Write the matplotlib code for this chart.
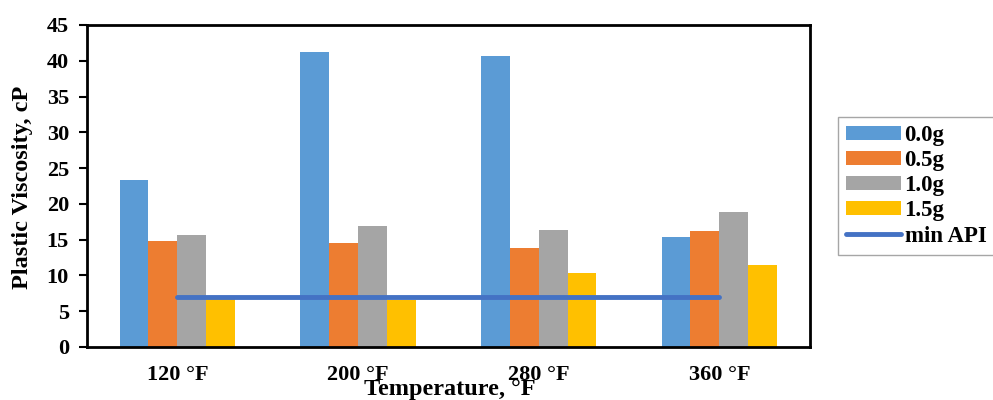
import matplotlib
matplotlib.use("Agg")
import matplotlib.pyplot as plt
import numpy as np
from matplotlib.patches import Patch
from matplotlib.lines import Line2D

categories = ["120 °F", "200 °F", "280 °F", "360 °F"]
series_names = ["0.0g", "0.5g", "1.0g", "1.5g"]
s00 = [23.4, 41.2, 40.7, 15.4]
s05 = [14.8, 14.6, 13.8, 16.2]
s10 = [15.6, 16.9, 16.4, 18.9]
s15 = [6.7, 6.6, 10.3, 11.4]
min_api = [7, 7, 7, 7]

colors = ["#5B9BD5", "#ED7D31", "#A5A5A5", "#FFC000"]
line_color = "#4472C4"

plt.rcParams['font.family'] = ['Liberation Serif', 'DejaVu Serif']
plt.rcParams['font.weight'] = 'bold'

fig = plt.figure(figsize=(9.93, 4.0), dpi=100)
ax = fig.add_axes([0.0876, 0.1325, 0.8154 - 0.0876, 0.9375 - 0.1325])

x = np.arange(len(categories))
w = 0.16
for i, (vals, c) in enumerate(zip([s00, s05, s10, s15], colors)):
    ax.bar(x + (i - 1.5) * w, vals, width=w, color=c, zorder=2)
ax.plot(x, min_api, color=line_color, lw=3.5, zorder=3, solid_capstyle='round')

ax.set_xlim(-0.5, 3.5)
ax.set_ylim(0, 45)
ax.set_yticks(range(0, 46, 5))
ax.set_xticks(x)
ax.set_xticklabels(categories)
ax.tick_params(axis='x', length=0, pad=13, labelsize=16)
ax.tick_params(axis='y', length=6, width=1.5, direction='out', labelsize=16, pad=7)
for lab in ax.get_xticklabels() + ax.get_yticklabels():
    lab.set_fontweight('bold')
for sp in ax.spines.values():
    sp.set_linewidth(2)
    sp.set_color('black')

fig.text(0.023, 0.5325, "Plastic Viscosity, cP", rotation=90, ha='center', va='center',
         fontsize=17.5, fontweight='bold')
fig.text(0.453, 0.0, "Temperature, °F", ha='center', va='bottom', fontsize=17.5, fontweight='bold')

handles = [Patch(facecolor=c, edgecolor='none') for c in colors]
handles.append(Line2D([0], [0], color=line_color, lw=3.5, solid_capstyle='round'))
labels = series_names + ["min API"]
leg = fig.legend(handles, labels, loc='upper left', bbox_to_anchor=(0.844, 0.7075),
                 bbox_transform=fig.transFigure, borderaxespad=0, frameon=True,
                 fancybox=False, edgecolor='#909090',
                 handlelength=2.4, handleheight=0.55, handletextpad=0.15,
                 labelspacing=0.18, borderpad=0.35, prop={'weight': 'bold', 'size': 16.5})
leg.get_frame().set_linewidth(1.0)

fig.savefig("out.png", dpi=100)
